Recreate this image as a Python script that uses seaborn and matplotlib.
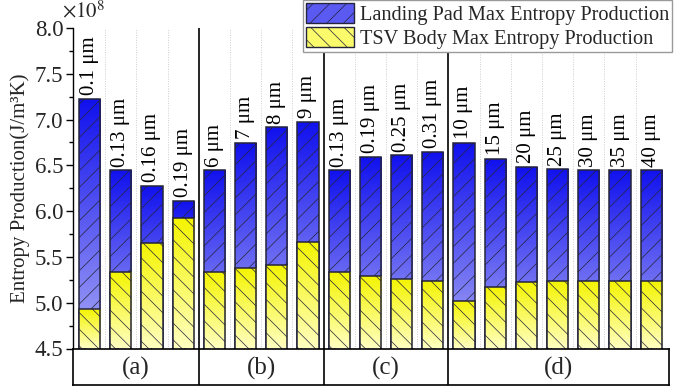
import numpy as np
import pandas as pd
import matplotlib
matplotlib.use("Agg")
import matplotlib.pyplot as plt
from matplotlib.colors import LinearSegmentedColormap
from matplotlib.patches import Patch
from matplotlib.ticker import MultipleLocator, FormatStrFormatter
import seaborn as sns

# --- data -------------------------------------------------------------
bar_labels = ["0.1 μm", "0.13 μm", "0.16 μm", "0.19 μm",
              "6 μm", "7 μm", "8 μm", "9 μm",
              "0.13 μm", "0.19 μm", "0.25 μm", "0.31 μm",
              "10 μm", "15 μm", "20 μm", "25 μm", "30 μm", "35 μm", "40 μm"]
landing_pad = [7.225, 6.445, 6.275, 6.11,
               6.445, 6.745, 6.915, 6.975,
               6.445, 6.59, 6.61, 6.65,
               6.745, 6.57, 6.485, 6.455, 6.445, 6.445, 6.445]
tsv_body = [4.93, 5.33, 5.655, 5.925,
            5.33, 5.38, 5.415, 5.665,
            5.33, 5.295, 5.26, 5.235,
            5.015, 5.17, 5.225, 5.24, 5.235, 5.235, 5.235]
group_names = ["(a)", "(b)", "(c)", "(d)"]
group_sizes = [4, 4, 4, 7]

df = pd.DataFrame({"pos": np.arange(len(bar_labels)),
                   "label": bar_labels,
                   "landing": landing_pad,
                   "tsv": tsv_body})

# --- style ------------------------------------------------------------
sns.set_theme(style="white")
plt.rcParams["font.family"] = ["Liberation Serif", "DejaVu Serif"]
plt.rcParams["mathtext.fontset"] = "stix"
plt.rcParams["hatch.linewidth"] = 0.5

FS = 15
W, H = 687, 389
fig = plt.figure(figsize=(W / 100, H / 100), dpi=100)
left, right = 73 / W, 669 / W
y_top, y_bot = 28 / H, 348.5 / H
ax = fig.add_axes([left, 1 - y_bot, right - left, y_bot - y_top])

edge = "#24243a"
sns.barplot(data=df, x="pos", y="landing", ax=ax, width=0.68, color="#3030f0",
            edgecolor=edge, linewidth=1.1, hatch="//", zorder=2, saturation=1)
n = len(df)
sns.barplot(data=df, x="pos", y="tsv", ax=ax, width=0.68, color="#ffff40",
            edgecolor=edge, linewidth=1.1, hatch="\\\\", zorder=3, saturation=1)

xlim = (-0.53, 18.57)
ylim = (4.5, 8.0)

blue_cmap = LinearSegmentedColormap.from_list("bl", ["#a8a8f6", "#1010ee"])
yel_cmap = LinearSegmentedColormap.from_list("yl", ["#ffffc0", "#f4f400"])
grad = np.linspace(0, 1, 256).reshape(-1, 1)

for i, p in enumerate(list(ax.patches)):
    cmap, z = (blue_cmap, 2) if i < n else (yel_cmap, 3)
    x0 = p.get_x()
    x1 = x0 + p.get_width()
    top = p.get_y() + p.get_height()
    im = ax.imshow(grad, extent=[x0, x1, ylim[0], top], origin="lower",
                   cmap=cmap, aspect="auto", interpolation="bicubic",
                   zorder=z - 0.05)
    im.set_clip_path(p)
    p.set_facecolor("none")

ax.set_xlim(*xlim)
ax.set_ylim(*ylim)

# value labels above the blue bars
for pos, val, lab in zip(df["pos"], df["landing"], df["label"]):
    ax.text(pos, val + 0.04, lab, rotation=90, ha="center", va="bottom",
            fontsize=FS, color="black", zorder=5)

# dotted guides between bars, solid separators between groups
bounds = np.cumsum(group_sizes)[:-1] - 0.5
for k in range(n - 1):
    xm = k + 0.5
    if xm in bounds:
        ax.axvline(xm, color="black", lw=1.2, zorder=1)
    else:
        ax.axvline(xm, color="#cdcdcd", lw=0.7, ls=(0, (1, 1.5)), zorder=1)

ax.set_xticks([])
ax.set_xlabel("")
ax.set_ylabel("Entropy Production(J/m³K)", fontsize=FS, labelpad=3)
ax.yaxis.set_major_locator(MultipleLocator(0.5))
ax.yaxis.set_minor_locator(MultipleLocator(0.25))
ax.yaxis.set_major_formatter(FormatStrFormatter("%.1f"))
ax.tick_params(axis="y", which="major", left=True, length=5, width=1,
               labelsize=16.5, color="black", pad=2)
ax.tick_params(axis="y", which="minor", left=True, length=3, width=1,
               color="black")
for s in ["top", "right", "bottom"]:
    ax.spines[s].set_visible(False)
ax.spines["left"].set_color("black")
ax.spines["left"].set_linewidth(1.0)

fig.text(62 / W, 1 - 1 / H, r"$\times10^{8}$", fontsize=FS, ha="left", va="top")

# group row under the axis
tab = fig.add_axes([left, 4 / H, right - left, (385 - 348.5) / H])
tab.set_xlim(*xlim)
tab.set_ylim(0, 1)
tab.set_xticks([])
tab.set_yticks([])
for s in tab.spines.values():
    s.set_color("black")
    s.set_linewidth(1.2)
start = 0
for name, size in zip(group_names, group_sizes):
    lo = xlim[0] if start == 0 else start - 0.5
    hi = xlim[1] if start + size == n else start + size - 0.5
    if start > 0:
        tab.axvline(lo, color="black", lw=1.2)
    tab.text((lo + hi) / 2, 0.45, name, ha="center", va="center", fontsize=18)
    start += size

handles = [Patch(facecolor="#5a5af2", edgecolor=edge, hatch="//", lw=1.0),
           Patch(facecolor="#fafa6a", edgecolor=edge, hatch="\\\\", lw=1.0)]
leg = fig.legend(handles, ["Landing Pad Max Entropy Production",
                           "TSV Body Max Entropy Production"],
                 loc="upper right", bbox_to_anchor=(672 / W, 1.0),
                 fontsize=14.6, frameon=True, fancybox=False, framealpha=1.0,
                 handlelength=2.35, handleheight=1.15, handletextpad=0.3,
                 borderpad=0.15, labelspacing=0.1, borderaxespad=0.0)
leg.get_frame().set_edgecolor("#9a9a9a")
leg.get_frame().set_linewidth(1.0)
leg.set_zorder(10)

fig.savefig("out.png", dpi=100)
